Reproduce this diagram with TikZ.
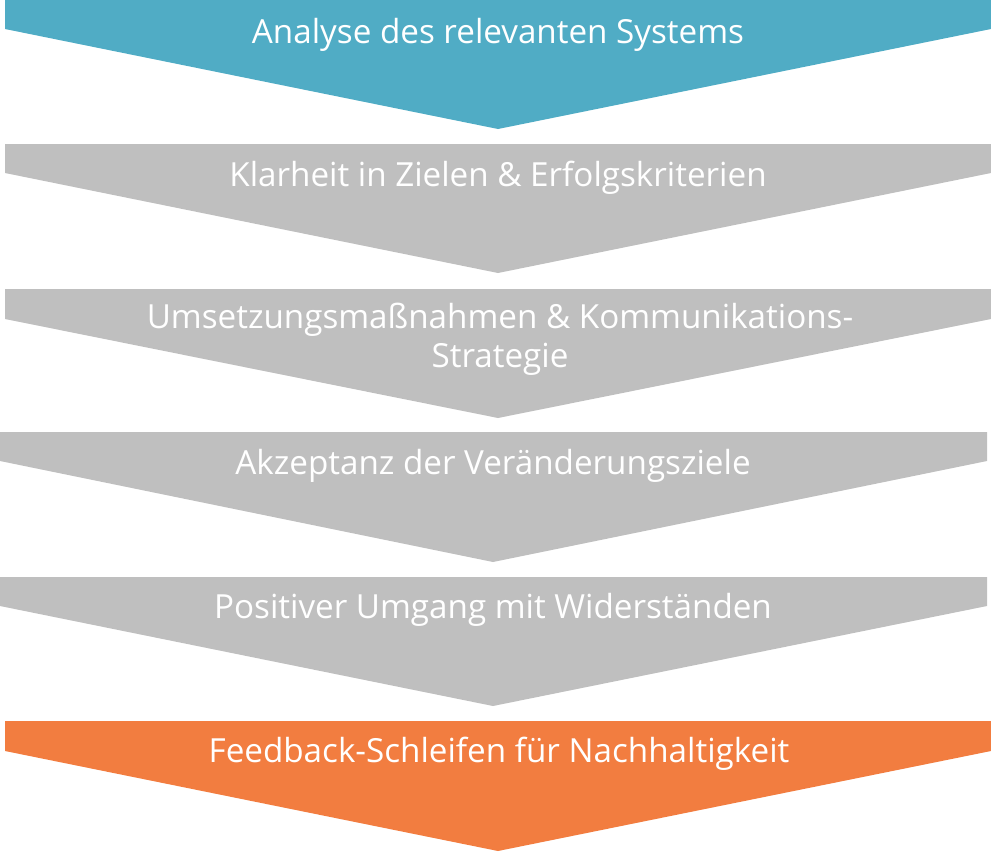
\documentclass[tikz,border=0pt]{standalone}
\usepackage{fontspec}
\setmainfont{Open Sans}
\usetikzlibrary{positioning}

\definecolor{stepblue}{RGB}{80,172,197}
\definecolor{stepgray}{RGB}{191,191,191}
\definecolor{steporange}{RGB}{242,125,64}

\begin{document}
\begin{tikzpicture}[
    x=1pt, y=-1pt,
    every node/.style={font=\fontsize{33.2}{39}\selectfont, text=white, inner sep=0pt},
    label/.style={anchor=base, align=center},
]
  \useasboundingbox (0,0) rectangle (991,852);

  % chevrons, top to bottom
  \fill[stepblue]   (5,0) -- (991,0) -- (991,29) -- (498,129) -- (5,29) -- cycle;
  \fill[stepgray]   (5,144) -- (991,144) -- (991,173) -- (498,273) -- (5,173) -- cycle;
  \fill[stepgray]   (5,289) -- (991,289) -- (991,319) -- (498,418) -- (5,319) -- cycle;
  \fill[stepgray]   (0,432) -- (987,432) -- (987,461) -- (493,562) -- (0,461) -- cycle;
  \fill[stepgray]   (0,577) -- (987,577) -- (987,606) -- (493,706) -- (0,606) -- cycle;
  \fill[steporange] (5,721) -- (991,721) -- (991,751) -- (498,851) -- (5,751) -- cycle;

  % labels (base = last line)
  \node[label] (analyse)  at (498,43)  {Analyse des relevanten Systems};
  \node[label] (ziele)    at (498,186) {Klarheit in Zielen \& Erfolgskriterien};
  \node[label] (massn)    at (500,367) {Umsetzungsmaßnahmen \& Kommunikations-\\Strategie};
  \node[label] (akzept)   at (493,474) {Akzeptanz der Veränderungsziele};
  \node[label] (umgang)   at (493,618) {Positiver Umgang mit Widerständen};
  \node[label] (feedback) at (499,762) {Feedback-Schleifen für Nachhaltigkeit};
\end{tikzpicture}
\end{document}
